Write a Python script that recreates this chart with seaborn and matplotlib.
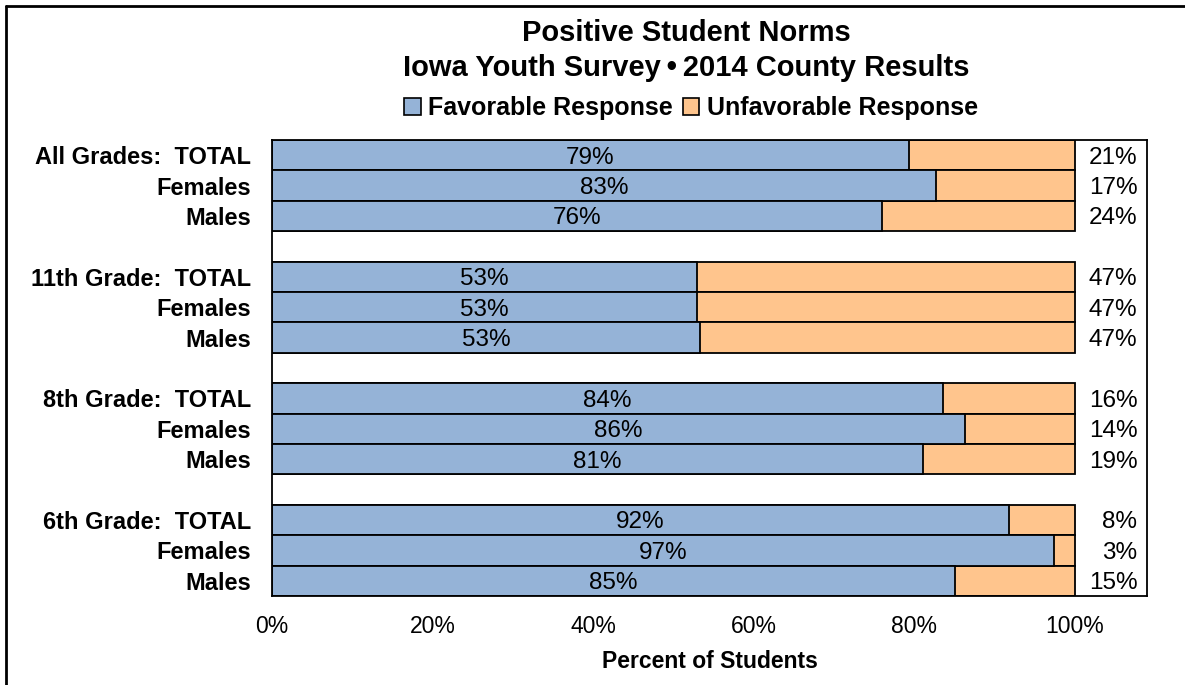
import numpy as np
import pandas as pd
import seaborn as sns
import matplotlib.pyplot as plt
from matplotlib.patches import Patch
from matplotlib.lines import Line2D

# data
row_labels = ["All Grades:  TOTAL", "Females", "Males",
              "11th Grade:  TOTAL", "Females", "Males",
              "8th Grade:  TOTAL", "Females", "Males",
              "6th Grade:  TOTAL", "Females", "Males"]
favorable = [79.3, 82.7, 76.0, 53.0, 53.0, 53.3, 83.6, 86.3, 81.1, 91.8, 97.4, 85.1]
fav_text = ["79%", "83%", "76%", "53%", "53%", "53%", "84%", "86%", "81%", "92%", "97%", "85%"]
unfav_text = ["21%", "17%", "24%", "47%", "47%", "47%", "16%", "14%", "19%", "8%", "3%", "15%"]
row_pos = [0, 1, 2, 4, 5, 6, 8, 9, 10, 12, 13, 14]   # gaps between grade groups

blue = "#95B3D7"
orange = "#FFC58D"

sns.set_style("white")
plt.rcParams['font.family'] = ['Liberation Sans', 'DejaVu Sans']
plt.rcParams['text.color'] = 'black'
plt.rcParams['axes.labelcolor'] = 'black'
plt.rcParams['xtick.color'] = 'black'
plt.rcParams['ytick.color'] = 'black'

df = pd.DataFrame({"label": row_labels, "fav": favorable, "pos": row_pos})
df["total"] = 100.0

fig = plt.figure(figsize=(11.85, 6.85), dpi=100)
ax = fig.add_axes([272/1185, 1-596/685, (1147-272)/1185, (596-140)/685])

# full bar (unfavorable part shows on the right), then favorable on top
sns.barplot(data=df, x="total", y="pos", orient="h", native_scale=True, width=1.0,
            color=orange, saturation=1, edgecolor="black", linewidth=1.3, ax=ax)
sns.barplot(data=df, x="fav", y="pos", orient="h", native_scale=True, width=1.0,
            color=blue, saturation=1, edgecolor="black", linewidth=1.3, ax=ax)

ax.set_xlim(0, 109)
ax.set_ylim(14.5, -0.5)
ax.set_xticks([0, 20, 40, 60, 80, 100])
ax.set_xticklabels(["0%", "20%", "40%", "60%", "80%", "100%"], fontsize=16.5)
ax.tick_params(axis="x", direction="out", length=7, width=1.3, color="black", pad=7)
ax.set_yticks(row_pos)
ax.set_yticklabels(row_labels, fontsize=17, fontweight="bold")
ax.tick_params(axis="y", length=0, pad=15)
ax.set_xlabel("Percent of Students", fontsize=16.5, fontweight="bold", labelpad=8)
ax.set_ylabel("")
for s in ax.spines.values():
    s.set_color("black")
    s.set_linewidth(1.3)

for p, f, ft, ut in zip(row_pos, favorable, fav_text, unfav_text):
    ax.text(f / 2, p + 0.08, ft, ha="center", va="center", fontsize=17.5)
    ax.text(107.8, p + 0.08, ut, ha="right", va="center", fontsize=17.5)

cx = 686 / 1185
fig.text(cx, 1 - 33/685, "Positive Student Norms", ha="center", va="center",
         fontsize=21, fontweight="bold")
fig.text(cx, 1 - 68/685, "Iowa Youth Survey\u2009\u2022\u20092014 County Results", ha="center", va="center",
         fontsize=21, fontweight="bold")

handles = [Patch(facecolor=blue, edgecolor="black", linewidth=1.2),
           Patch(facecolor=orange, edgecolor="black", linewidth=1.2)]
fig.legend(handles, ["Favorable Response", "Unfavorable Response"], loc="center",
           bbox_to_anchor=(691/1185, 1 - 108/685), ncol=2, frameon=False,
           prop={"size": 18, "weight": "bold"}, handlelength=0.65, handleheight=0.65,
           handletextpad=0.3, columnspacing=0.4)

# outer chart frame (only top and left edges fall inside the image)
fig.add_artist(Line2D([6/1185, 6/1185], [-0.1, 1 - 6/685], color="black", linewidth=2,
                      transform=fig.transFigure))
fig.add_artist(Line2D([6/1185, 1.1], [1 - 6/685, 1 - 6/685], color="black", linewidth=2,
                      transform=fig.transFigure))

fig.savefig("out.png", dpi=100)
